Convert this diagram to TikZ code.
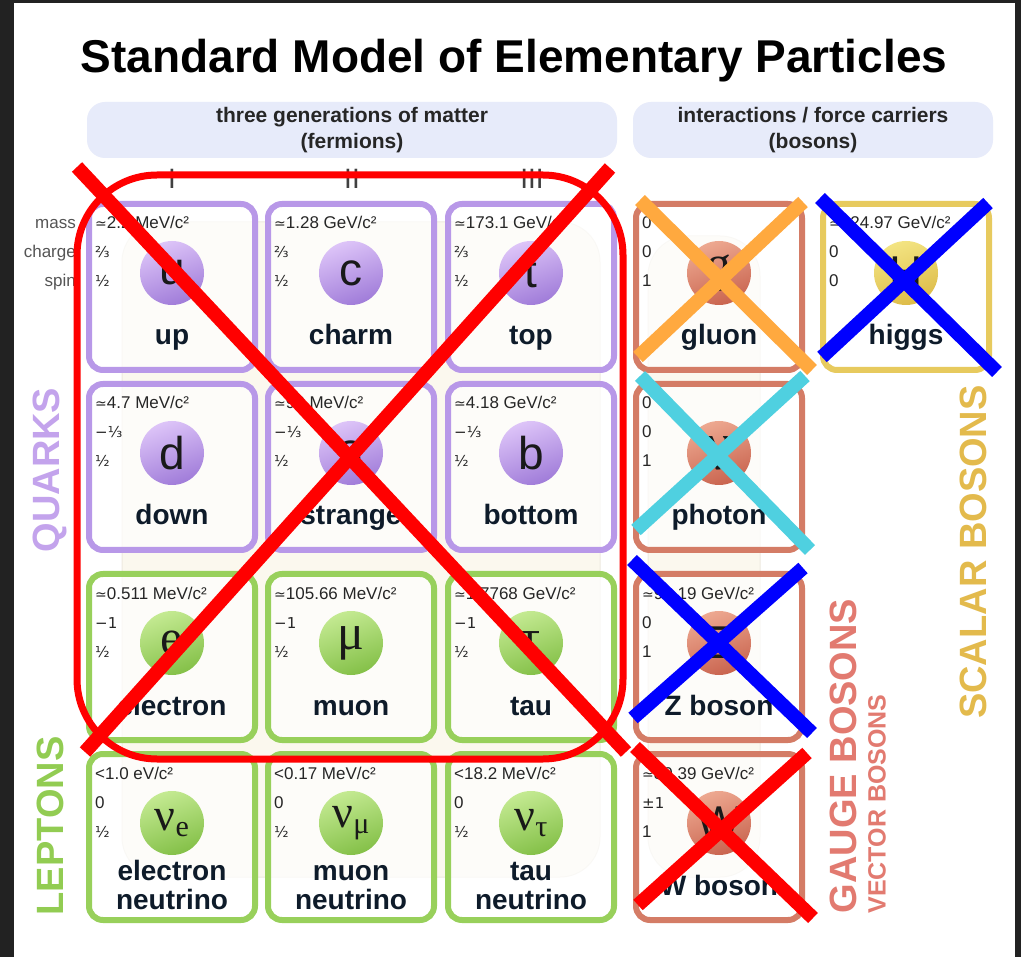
\documentclass[tikz,border=0pt]{standalone}
\usepackage{fontspec}
\setmainfont{Liberation Sans}
\newfontfamily\grfont{Liberation Serif}
\newfontfamily\symfont{DejaVu Sans}
\usetikzlibrary{calc}

\definecolor{quarkc}{HTML}{B898E8}
\definecolor{quarkl}{HTML}{DDC4F8}
\definecolor{quarkd}{HTML}{A07CD9}
\definecolor{leptonc}{HTML}{98D05B}
\definecolor{leptonl}{HTML}{C4EA92}
\definecolor{leptond}{HTML}{84C048}
\definecolor{gaugec}{HTML}{D47C66}
\definecolor{gaugel}{HTML}{EDA890}
\definecolor{gauged}{HTML}{C9644F}
\definecolor{scalarc}{HTML}{E7CA5E}
\definecolor{scalarl}{HTML}{F3E482}
\definecolor{scalard}{HTML}{DDBB48}
\definecolor{headfill}{HTML}{E7EBFA}
\definecolor{cream}{HTML}{FBF8EE}
\definecolor{creamline}{HTML}{EEEAE0}
\definecolor{inkc}{HTML}{0E1B2A}
\definecolor{labgray}{HTML}{555555}
\definecolor{quarklab}{HTML}{C3A3EC}
\definecolor{leptonlab}{HTML}{92CC52}
\definecolor{gaugelab}{HTML}{E27A70}
\definecolor{scalarlab}{HTML}{E3BA4C}
\definecolor{crossorange}{HTML}{FFA93F}
\definecolor{crosscyan}{HTML}{4FD0E0}
\definecolor{framegray}{HTML}{222222}

\newcommand{\apx}{{\symfont\fontsize{14}{14}\selectfont ≃}}
\newcommand{\fr}[1]{{\symfont\fontsize{15}{15}\selectfont #1}}
\newcommand{\gr}[1]{{\grfont\fontsize{50}{50}\selectfont #1}}
\newcommand{\nusym}[1]{{\grfont\fontsize{46}{46}\selectfont ν\raisebox{-6pt}{\fontsize{30}{30}\selectfont #1}}}
\newcommand{\twoline}[2]{\raisebox{-14pt}{\begin{tabular}[b]{@{}c@{}}#1\\#2\end{tabular}}}

% one box of the table
\newcommand{\particle}[9]{%
  \node[cell, draw=#4c] (#1) at (#2,#3) {};
  \shade[top color=#4l, bottom color=#4d, shading angle=20] ($(#1.center)+(0,-14)$) circle[radius=32pt];
  \node[sym] (#1-s) at ($(#1.center)+(0,-14)$) {#8};
  \node[prop] (#1-m) at ($(#1.north west)+(9,28)$) {#5};
  \node[prop] (#1-q) at ($(#1.north west)+(9,57)$) {#6};
  \node[prop] (#1-j) at ($(#1.north west)+(9,86)$) {#7};
  \node[pname] (#1-n) at ($(#1.north)+(0,144)$) {#9};
}

\tikzset{
  cell/.style={rounded corners=14pt, line width=6pt, minimum width=166pt, minimum height=166pt,
    fill=white, fill opacity=0.7, text opacity=1},
  sym/.style={font=\fontsize{46}{46}\selectfont, text=black!90, inner sep=0pt},
  prop/.style={anchor=base west, font=\fontsize{17}{17}\selectfont, text=black!85, inner sep=0pt},
  pname/.style={anchor=base, font=\bfseries\fontsize{28}{28}\selectfont, text=inkc, inner sep=0pt},
  headbox/.style={fill=headfill, rounded corners=18pt, minimum height=56pt, align=center,
    font=\bfseries\fontsize{21}{26}\selectfont, text=black!85},
  gen/.style={font=\fontsize{28}{28}\selectfont, text=black!75},
  rowlab/.style={anchor=base east, font=\fontsize{17}{17}\selectfont, text=labgray, inner sep=0pt},
  sidelab/.style={rotate=90, font=\bfseries\fontsize{38}{38}\selectfont, inner sep=0pt},
  cross/.style={line width=14pt},
  faint/.style={fill=cream, draw=creamline, line width=1pt, rounded corners=40pt}
}

\begin{document}
\begin{tikzpicture}[x=1pt,y=-1pt]
	\useasboundingbox (0,0) rectangle (1021,957);
	\fill[framegray] (0,0) rectangle (1021,957);
	\fill[white] (14,3) rectangle (1015,957);

	% title and headers
	\node[font=\bfseries\fontsize{46}{46}\selectfont, anchor=base] (title) at (514,73) {Standard Model of Elementary Particles};
	\node[headbox, minimum width=530pt] (fermhead) at (352,130) {three generations of matter\\(fermions)};
	\node[headbox, minimum width=360pt] (boshead) at (813,130) {interactions / force carriers\\(bosons)};
	\node[gen] (genI) at (172,179) {I};
	\node[gen] (genII) at (352,179) {II};
	\node[gen] (genIII) at (532,179) {III};
	\node[rowlab] (masslab) at (76,229) {mass};
	\node[rowlab] (chargelab) at (76,258) {charge};
	\node[rowlab] (spinlab) at (76,287) {spin};

	% faint background
	\draw[faint] (122,222) rectangle (600,877);
	\draw[faint] (648,236) rectangle (760,877);

	% quarks
	\particle{up}{172}{287}{quark}{\apx2.2 MeV/c²}{\fr{⅔}}{\fr{½}}{u}{up}
	\particle{charm}{351}{287}{quark}{\apx1.28 GeV/c²}{\fr{⅔}}{\fr{½}}{c}{charm}
	\particle{top}{531}{287}{quark}{\apx173.1 GeV/c²}{\fr{⅔}}{\fr{½}}{t}{top}
	\particle{down}{172}{467}{quark}{\apx4.7 MeV/c²}{\fr{−⅓}}{\fr{½}}{d}{down}
	\particle{strange}{351}{467}{quark}{\apx96 MeV/c²}{\fr{−⅓}}{\fr{½}}{s}{strange}
	\particle{bottom}{531}{467}{quark}{\apx4.18 GeV/c²}{\fr{−⅓}}{\fr{½}}{b}{bottom}
	% leptons
	\particle{electron}{172}{657}{lepton}{\apx0.511 MeV/c²}{\fr{−1}}{\fr{½}}{\gr{e}}{electron}
	\particle{muon}{351}{657}{lepton}{\apx105.66 MeV/c²}{\fr{−1}}{\fr{½}}{\gr{μ}}{muon}
	\particle{tau}{531}{657}{lepton}{\apx1.7768 GeV/c²}{\fr{−1}}{\fr{½}}{\gr{τ}}{tau}
	\particle{nue}{172}{837}{lepton}{<1.0 eV/c²}{0}{\fr{½}}{\nusym{e}}{\twoline{electron}{neutrino}}
	\particle{numu}{351}{837}{lepton}{<0.17 MeV/c²}{0}{\fr{½}}{\nusym{μ}}{\twoline{muon}{neutrino}}
	\particle{nutau}{531}{837}{lepton}{<18.2 MeV/c²}{0}{\fr{½}}{\nusym{τ}}{\twoline{tau}{neutrino}}
	% bosons
	\particle{gluon}{719}{287}{gauge}{0}{0}{1}{\gr{g}}{gluon}
	\particle{photon}{719}{467}{gauge}{0}{0}{1}{\gr{γ}}{photon}
	\particle{zboson}{719}{657}{gauge}{\apx91.19 GeV/c²}{0}{1}{Z}{Z boson}
	\particle{wboson}{719}{837}{gauge}{\apx80.39 GeV/c²}{\fr{±1}}{1}{W}{W boson}
	\particle{higgs}{906}{287}{scalar}{\apx124.97 GeV/c²}{0}{0}{H}{higgs}

	% side labels
	\node[sidelab, text=quarklab] (quarks) at (50,470) {QUARKS};
	\node[sidelab, text=leptonlab] (leptons) at (50,826) {LEPTONS};
	\node[sidelab, text=gaugelab] (gauge) at (843,756) {GAUGE BOSONS};
	\node[sidelab, text=gaugelab, font=\bfseries\fontsize{25}{25}\selectfont] (vector) at (877,804) {VECTOR BOSONS};
	\node[sidelab, text=scalarlab] (scalar) at (973,552) {SCALAR BOSONS};

	% crossings out
	\draw[red, line width=7pt, rounded corners=80pt] (77,175) rectangle (623,759);
	\draw[cross, red] (77,167) -- (626,752);
	\draw[cross, red] (610,168) -- (85,752);
	\draw[cross, crossorange] (640,200) -- (812,370);
	\draw[cross, crossorange] (803,202) -- (638,357);
	\draw[cross, blue] (820,198) -- (997,372);
	\draw[cross, blue] (988,203) -- (822,357);
	\draw[cross, crosscyan] (640,376) -- (810,550);
	\draw[cross, crosscyan] (805,376) -- (636,530);
	\draw[cross, blue] (632,560) -- (812,733);
	\draw[cross, blue] (803,568) -- (633,718);
	\draw[cross, red] (635,747) -- (813,918);
	\draw[cross, red] (807,753) -- (638,905);
\end{tikzpicture}
\end{document}
